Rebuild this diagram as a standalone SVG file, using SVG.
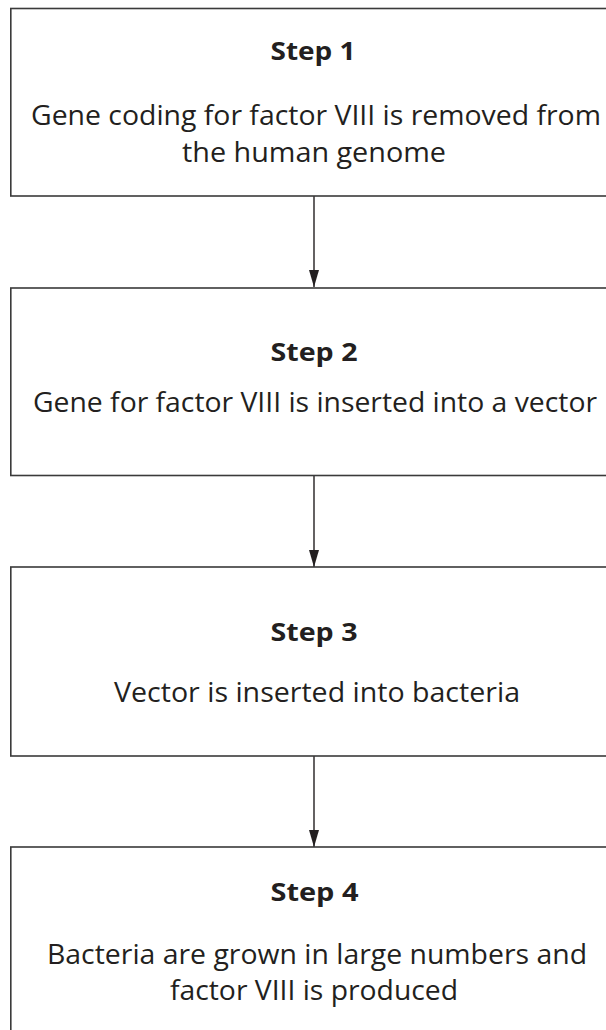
<svg xmlns="http://www.w3.org/2000/svg" width="606" height="1030" viewBox="0 0 606 1030">
<style>
.box{fill:#fff;stroke:#3a3a3a;stroke-width:1.6}
.t{font-family:"Open Sans","Noto Sans","Liberation Sans",sans-serif;fill:#231f20;text-anchor:middle}
.h{font-size:25.5px;font-weight:bold}
.b{font-size:28px}
.con{stroke:#231f20;stroke-width:1.4;fill:none}
</style>
<defs>
<marker id="arr" viewBox="0 0 17 10" refX="17" refY="5" markerWidth="17" markerHeight="10" markerUnits="userSpaceOnUse" orient="auto">
<path d="M0,0 L17,5 L0,10 Z" fill="#231f20"/>
</marker>
</defs>
<rect width="606" height="1030" fill="#fff"/>
<g id="connectors">
<line class="con" x1="314" y1="196" x2="314" y2="287" marker-end="url(#arr)"/>
<line class="con" x1="314" y1="476" x2="314" y2="567" marker-end="url(#arr)"/>
<line class="con" x1="314" y1="756" x2="314" y2="847" marker-end="url(#arr)"/>
</g>
<g id="step1">
<rect class="box" x="10.8" y="8.5" width="610" height="187.5"/>
<text class="t h" x="313" y="60" textLength="85" lengthAdjust="spacingAndGlyphs">Step 1</text>
<text class="t b" x="316" y="125" textLength="570" lengthAdjust="spacingAndGlyphs">Gene coding for factor VIII is removed from</text>
<text class="t b" x="314" y="162" textLength="264" lengthAdjust="spacingAndGlyphs">the human genome</text>
</g>
<g id="step2">
<rect class="box" x="10.8" y="288" width="610" height="187.5"/>
<text class="t h" x="314" y="361" textLength="87" lengthAdjust="spacingAndGlyphs">Step 2</text>
<text class="t b" x="315" y="412" textLength="564" lengthAdjust="spacingAndGlyphs">Gene for factor VIII is inserted into a vector</text>
</g>
<g id="step3">
<rect class="box" x="10.8" y="567" width="610" height="189"/>
<text class="t h" x="314" y="641" textLength="87" lengthAdjust="spacingAndGlyphs">Step 3</text>
<text class="t b" x="317" y="702" textLength="406" lengthAdjust="spacingAndGlyphs">Vector is inserted into bacteria</text>
</g>
<g id="step4">
<rect class="box" x="10.8" y="847" width="610" height="190"/>
<text class="t h" x="314.5" y="901" textLength="88" lengthAdjust="spacingAndGlyphs">Step 4</text>
<text class="t b" x="317" y="964" textLength="540" lengthAdjust="spacingAndGlyphs">Bacteria are grown in large numbers and</text>
<text class="t b" x="314" y="1000" textLength="288" lengthAdjust="spacingAndGlyphs">factor VIII is produced</text>
</g>
</svg>
